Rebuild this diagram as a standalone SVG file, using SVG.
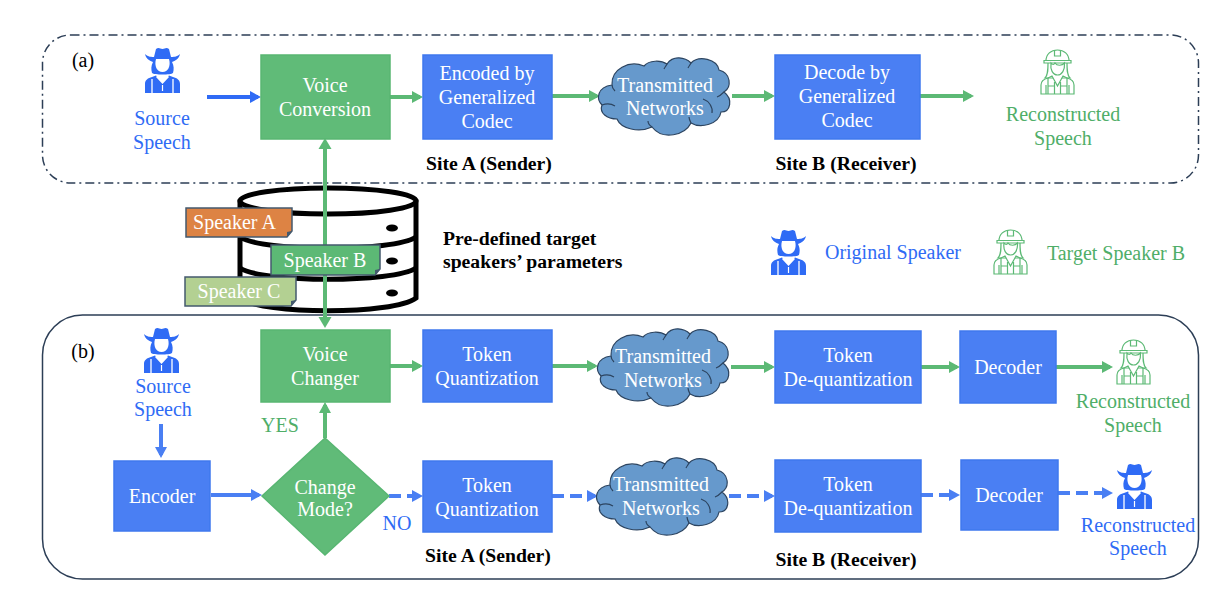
<svg xmlns="http://www.w3.org/2000/svg" width="1226" height="596" viewBox="0 0 1226 596">
<style>
text{font-family:"Liberation Serif","Times New Roman",serif;font-size:20px;text-anchor:middle}
.w{fill:#fff}.b{fill:#2f6bf5}.g{fill:#4fae68}.k{fill:#000}
.bold{font-weight:bold;font-size:19.700px;fill:#000}
.bx{fill:#4a7ff3;stroke:#3f78ee;stroke-width:1.500}
.gx{fill:#60bb78;stroke:#58b672;stroke-width:1.500}
.cl{fill:#6699cc;stroke:#2c4460;stroke-width:1.200}
.cg{fill:none;stroke:#5cb975;stroke-width:4}
.cb{fill:none;stroke:#4a7ff3;stroke-width:4}
.da{stroke-dasharray:12 6}
.ag{fill:#5cb975}.ab{fill:#4a7ff3}
.tag{stroke:#44596e;stroke-width:1.500}
.fold{fill:#44596e}
.drum{fill:#fff;stroke:#000;stroke-width:5}
</style>
<defs>
<g id="cloud">
<path d="M3 48C-3 42 -2 30 13 28C12 12 30 3 45 9C50 3 62 3 68 7C74 -2 86 0 92 6C100 -2 118 2 120 13C132 16 133 30 125 35C134 42 132 55 122 55C120 67 102 72 92 66C86 78 64 84 53 70C40 76 22 72 18 62C8 62 0 56 3 48Z"/>
<path fill="none" d="M3 48C8 46 13 47 16 49M13 28C13 30 14 32 16 34M125 35C123 37 121 39 118 40M104 42C110 44 114 50 113 56M53 70C50 68 49 66 49 64M92 66C91 64 90 62 90 60M68 7C67 9 66 10 65 12M92 6C91 8 90 9 89 11"/>
</g>
<g id="cowboy" fill="#2f6bf5">
<path d="M0 7C3 10 7 10 9 10L11 2C14 0 15 2 17.500 2C20 2 21 0 24 2L26 10C28 10 32 10 35 7C34 12 30 14 27 15C29 19 29 22 28 26C26 28 9 28 7 26C6 22 6 19 8 15C5 14 1 12 0 7Z"/>
<path d="M11 12H24C26 19 23 25 17.500 25C12 25 9 19 11 12Z" fill="#fff"/>
<path d="M0 46V37C0 33 3 31 7 30L11 28.500L17.500 35L24 28.500L28 30C32 31 35 33 35 37V46Z"/>
<path d="M12.500 28.500L17.500 33L22.500 28.500L24 30L17.500 37L11 30Z" fill="#fff"/>
<path d="M16.900 38H18.100V44H16.900Z" fill="#fff"/>
<path d="M7 32V46M28 32V46" stroke="#fff" stroke-width="1.300"/>
</g>
<g id="worker" fill="none" stroke="#5cb975" stroke-width="1.200">
<path d="M5 12C5 5 10 1 16.500 1C23 1 28 5 28 12"/>
<path d="M3 11.500H30V14H3Z"/>
<path d="M13.500 1.500V7H19.500V1.500"/>
<path d="M10 14C9 21 12 26 16.500 26C21 26 24 21 23.500 14C21 17 16 17 14 14C13 16 11.500 16 10 14Z"/>
<path d="M7 14C7 21 7 26 4 29H12M26 14C26 21 26 26 29 29H21"/>
<path d="M0 45V36C0 32 3 30 7 29L11 27L16.500 37L22 27L26 29C30 30 33 32 33 36V45Z"/>
<path d="M7 29V45M26 29V45M13.500 33V45M19.500 33V45M7 37H13.500M19.500 37H26M5 36V45M28 36V45"/>
</g>
<marker id="mg" markerUnits="userSpaceOnUse" markerWidth="12" markerHeight="13" refX="8" refY="6.500" orient="auto"><path d="M0 0.500L11 6.500L0 12.500Z" class="ag"/></marker>
<marker id="mb" markerUnits="userSpaceOnUse" markerWidth="12" markerHeight="13" refX="8" refY="6.500" orient="auto"><path d="M0 0.500L11 6.500L0 12.500Z" class="ab"/></marker>
<marker id="mbd" markerUnits="userSpaceOnUse" markerWidth="12" markerHeight="13" refX="8" refY="6.500" orient="auto"><path d="M0 0.500L11 6.500L0 12.500Z" fill="#2f6bf5"/></marker>
</defs>

<g id="panel-a"><rect x="42.500" y="35" width="1156" height="148" rx="28" fill="none" stroke="#2c3e56" stroke-width="1.500" stroke-dasharray="9 4 2 4"/>
<text x="83" y="67" class="k">(a)</text></g>
<g id="panel-b"><rect x="42.500" y="315" width="1156" height="264" rx="40" fill="none" stroke="#2c3e56" stroke-width="1.500"/>
<text x="83" y="358" class="k">(b)</text></g>

<g id="database">
<path class="drum" d="M240 202V298C262 315 394 315 416 298V202Z"/>
<ellipse class="drum" cx="328" cy="201" rx="88" ry="13"/>
<path class="drum" style="fill:none" d="M240 237C262 252 394 252 416 237M240 268C262 283 394 283 416 268"/>
<ellipse cx="392" cy="228" rx="6" ry="3.500"/><ellipse cx="392" cy="261" rx="6" ry="3.500"/><ellipse cx="392" cy="293" rx="6" ry="3.500"/>
</g>

<g id="connectors">
<path class="cg" d="M325 320V146"/>
<path class="ag" d="M325 138L318.500 149H331.500Z"/><path class="ag" d="M325 328L318.500 317H331.500Z"/>
<path class="cb" style="stroke:#2f6bf5" d="M207 97H258" marker-end="url(#mbd)"/>
<path class="cg" d="M390 97H420" marker-end="url(#mg)"/>
<path class="cg" d="M552 96H597" marker-end="url(#mg)"/>
<path class="cg" d="M732 96H772" marker-end="url(#mg)"/>
<path class="cg" d="M920 96H971" marker-end="url(#mg)"/>
<path class="cg" d="M390 366H420" marker-end="url(#mg)"/>
<path class="cg" d="M552 366H595" marker-end="url(#mg)"/>
<path class="cg" d="M731 367H772" marker-end="url(#mg)"/>
<path class="cg" d="M921 367H957" marker-end="url(#mg)"/>
<path class="cg" d="M1056 367H1110" marker-end="url(#mg)"/>
<path class="cg" d="M325 438V405" marker-end="url(#mg)"/>
<path class="cb" d="M161 424V455" marker-end="url(#mb)"/>
<path class="cb" d="M211 495H259" marker-end="url(#mb)"/>
<path class="cb da" d="M389 496H420" marker-end="url(#mb)"/>
<path class="cb da" d="M552 496H595" marker-end="url(#mb)"/>
<path class="cb da" d="M729 496H772" marker-end="url(#mb)"/>
<path class="cb da" d="M921 495H957" marker-end="url(#mb)"/>
<path class="cb da" d="M1058 493H1110" marker-end="url(#mb)"/>
</g>

<g id="tags">
<g id="speaker-a"><path class="tag" fill="#dd8344" d="M186 208H292V231L287 237H186Z"/><path class="fold" d="M292 231L287 232L287 237Z"/><text x="234.500" y="229" class="w">Speaker A</text></g>
<g id="speaker-b"><path class="tag" fill="#5cb975" d="M271 245H380V269L375 275H271Z"/><path class="fold" d="M380 269L375 270L375 275Z"/><text x="325" y="267" class="w">Speaker B</text></g>
<g id="speaker-c"><path class="tag" fill="#b3d092" d="M185 277H296V300L291 306H185Z"/><path class="fold" d="M296 300L291 301L291 306Z"/><text x="239" y="298" class="w">Speaker C</text></g>
</g>

<g id="source-a"><use href="#cowboy" x="145" y="47"/><text x="162" y="125" class="b">Source</text><text x="162" y="149" class="b">Speech</text></g>
<g id="voice-conversion"><rect class="gx" x="261" y="55" width="129" height="84"/><text x="325" y="92" class="w">Voice</text><text x="325" y="116" class="w">Conversion</text></g>
<g id="encoded"><rect class="bx" x="423" y="55" width="129" height="84"/><text x="487" y="80" class="w">Encoded by</text><text x="487" y="104" class="w">Generalized</text><text x="487" y="128" class="w">Codec</text></g>
<g id="cloud-a"><use href="#cloud" class="cl" x="599" y="57"/><text x="665" y="92" class="w">Transmitted</text><text x="665" y="115" class="w">Networks</text></g>
<g id="decode"><rect class="bx" x="775" y="55" width="145" height="84"/><text x="847" y="79" class="w">Decode by</text><text x="847" y="103" class="w">Generalized</text><text x="847" y="127" class="w">Codec</text></g>
<g id="target-a"><use href="#worker" x="1041" y="49"/><text x="1063" y="121" class="g">Reconstructed</text><text x="1063" y="145" class="g">Speech</text></g>
<text x="489" y="170" class="bold">Site A (Sender)</text>
<text x="846" y="170" class="bold">Site B (Receiver)</text>

<text x="443" y="245" class="bold" style="text-anchor:start">Pre-defined target</text>
<text x="443" y="268" class="bold" style="text-anchor:start">speakers’ parameters</text>
<g id="legend-original"><use href="#cowboy" x="771" y="229"/><text x="893" y="259" class="b">Original Speaker</text></g>
<g id="legend-target"><use href="#worker" x="994" y="229"/><text x="1116" y="260" class="g">Target Speaker B</text></g>

<g id="source-b"><use href="#cowboy" x="144" y="327"/><text x="163" y="393" class="b">Source</text><text x="163" y="416" class="b">Speech</text></g>
<g id="voice-changer"><rect class="gx" x="261" y="330" width="129" height="72"/><text x="325" y="361" class="w">Voice</text><text x="325" y="385" class="w">Changer</text></g>
<g id="tq1"><rect class="bx" x="423" y="330" width="129" height="72"/><text x="487" y="361" class="w">Token</text><text x="487" y="385" class="w">Quantization</text></g>
<g id="cloud-b1"><use href="#cloud" class="cl" x="598" y="328"/><text x="663" y="363" class="w">Transmitted</text><text x="663" y="387" class="w">Networks</text></g>
<g id="tdq1"><rect class="bx" x="775" y="331" width="146" height="72"/><text x="848" y="362" class="w">Token</text><text x="848" y="386" class="w">De-quantization</text></g>
<g id="dec1"><rect class="bx" x="960" y="331" width="96" height="72"/><text x="1008" y="374" class="w">Decoder</text></g>
<g id="target-b"><use href="#worker" x="1117" y="339"/><text x="1133" y="408" class="g">Reconstructed</text><text x="1133" y="432" class="g">Speech</text></g>
<text x="280" y="432" class="g">YES</text>
<g id="encoder"><rect class="bx" x="114" y="461" width="96" height="70"/><text x="162" y="503" class="w">Encoder</text></g>
<g id="change-mode"><path class="gx" d="M325 438L389 496L325 555L262 496Z"/><text x="325" y="494" class="w">Change</text><text x="325" y="516" class="w">Mode?</text></g>
<text x="397" y="530" class="b">NO</text>
<g id="tq2"><rect class="bx" x="423" y="461" width="129" height="71"/><text x="487" y="492" class="w">Token</text><text x="487" y="516" class="w">Quantization</text></g>
<g id="cloud-b2"><use href="#cloud" class="cl" x="597" y="457"/><text x="661" y="491" class="w">Transmitted</text><text x="661" y="515" class="w">Networks</text></g>
<g id="tdq2"><rect class="bx" x="775" y="460" width="146" height="72"/><text x="848" y="491" class="w">Token</text><text x="848" y="515" class="w">De-quantization</text></g>
<g id="dec2"><rect class="bx" x="961" y="460" width="97" height="70"/><text x="1009" y="502" class="w">Decoder</text></g>
<g id="speaker-out"><use href="#cowboy" x="1117" y="463"/><text x="1138" y="532" class="b">Reconstructed</text><text x="1138" y="555" class="b">Speech</text></g>
<text x="488" y="562" class="bold">Site A (Sender)</text>
<text x="846" y="566" class="bold">Site B (Receiver)</text>
</svg>
